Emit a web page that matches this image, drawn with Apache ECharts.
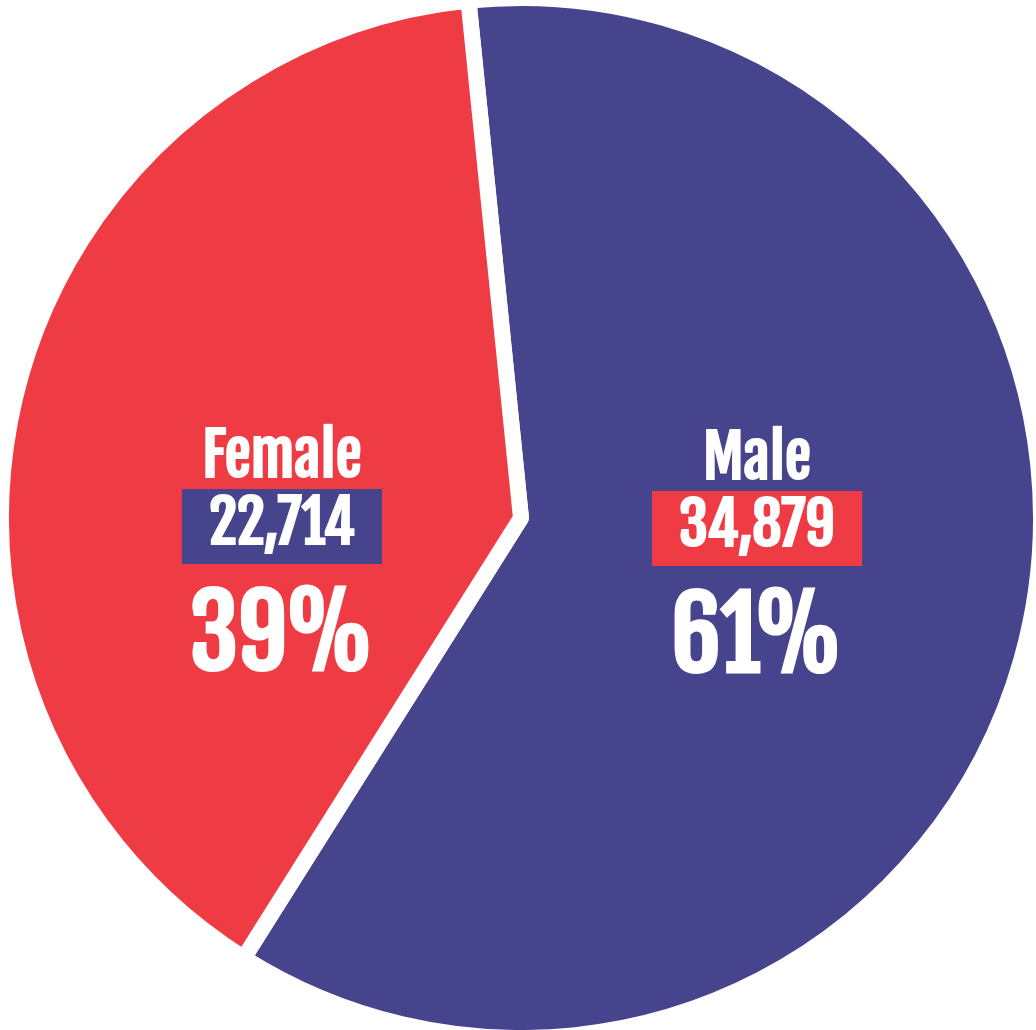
<!DOCTYPE html>
<html>
<head>
<meta charset="utf-8">
<style>
html,body{margin:0;padding:0;background:#fff;}
#chart{width:1036px;height:1030px;}
</style>
<script src="https://cdn.jsdelivr.net/npm/echarts@6/dist/echarts.min.js"></script>
</head>
<body>
<div id="chart"></div>
<script>
const categories = ['Male', 'Female'];
const values = [34879, 22714];
const sliceColors = ['#46448C', '#EF3B43'];
const boxColors = ['#EF3B43', '#46448C'];
const labelOffsets = [[-20, -3], [17, 115]];

const FONT = '"Fjalla One", Oswald, "Roboto Condensed", "DejaVu Sans Condensed", sans-serif';

function draw() {
  const chart = echarts.init(document.getElementById('chart'));
  const data = categories.map((name, i) => ({
    name: name,
    value: values[i],
    itemStyle: { color: sliceColors[i] },
    label: {
      offset: labelOffsets[i],
      rich: {
        name: { fontFamily: FONT, fontWeight: 'bold', fontSize: 59, color: '#fff', lineHeight: 60, align: 'center' },
        val: { fontFamily: FONT, fontWeight: 'bold', fontSize: 59, color: '#fff', lineHeight: 75, height: 75, backgroundColor: boxColors[i], padding: [0, 27], align: 'center' },
        pct: { fontFamily: FONT, fontWeight: 'bold', fontSize: 98, color: '#fff', lineHeight: 153, align: 'center' }
      }
    }
  }));

  chart.setOption({
    backgroundColor: '#fff',
    animation: false,
    series: [{
      type: 'pie',
      center: [521, 518],
      radius: [0, 520],
      startAngle: 95.8,
      clockwise: true,
      itemStyle: { borderColor: '#fff', borderWidth: 16, borderJoin: 'round' },
      label: {
        show: true,
        position: 'inside',
        formatter: function (p) {
          return '{name|' + p.name + '}\n{val|' + p.value.toLocaleString('en-US') + '}\n{pct|' + Math.round(p.percent) + '%}';
        }
      },
      labelLine: { show: false },
      emphasis: { disabled: true },
      data: data
    }]
  });
}

if (document.fonts && document.fonts.load) {
  Promise.all([
    document.fonts.load('bold 59px "Fjalla One"'),
    document.fonts.load('bold 98px "Fjalla One"')
  ]).then(draw, draw);
} else {
  draw();
}
</script>
</body>
</html>
